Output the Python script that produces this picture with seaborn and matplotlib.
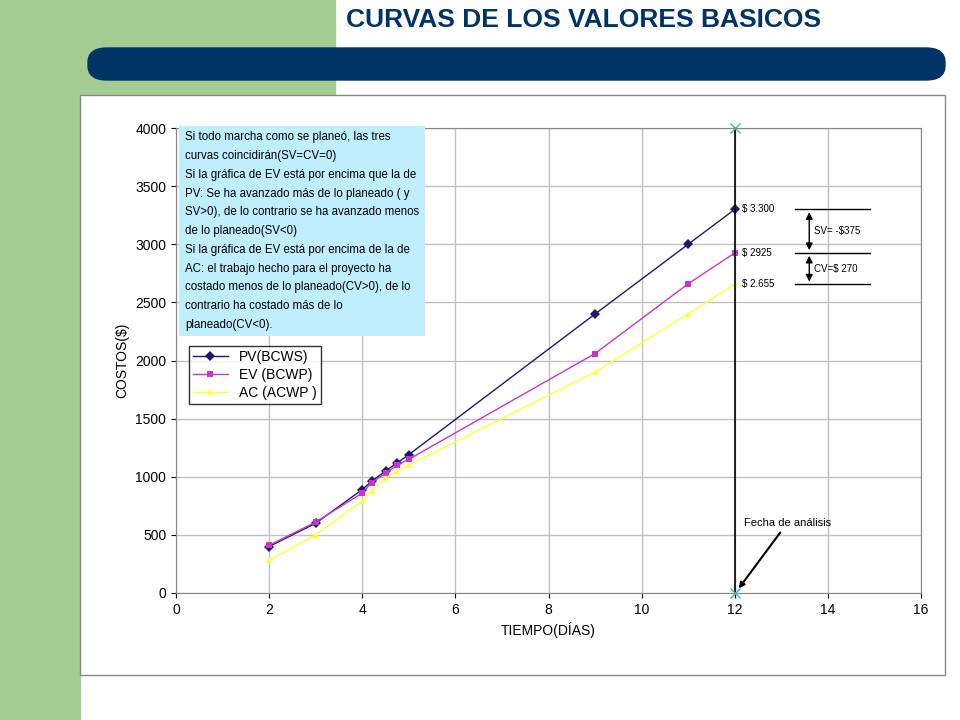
import matplotlib
matplotlib.use("Agg")
import matplotlib.pyplot as plt
import seaborn as sns
import pandas as pd
from matplotlib.patches import Rectangle, FancyBboxPatch

plt.rcParams["font.family"] = ["Liberation Sans", "DejaVu Sans"]

days = [2, 3, 4, 4.2, 4.5, 4.75, 5, 9, 11, 12]
pv = [400, 600, 890, 960, 1050, 1120, 1190, 2400, 3000, 3300]
ev = [410, 610, 860, 950, 1030, 1100, 1150, 2060, 2660, 2925]
ac = [280, 500, 790, 880, 990, 1050, 1100, 1900, 2400, 2655]
series_names = ["PV(BCWS)", "EV (BCWP)", "AC (ACWP )"]

df = pd.concat([
    pd.DataFrame({"dia": days, "costo": v, "serie": n})
    for v, n in zip([pv, ev, ac], series_names)
])

fig = plt.figure(figsize=(9.6, 7.2), dpi=100)
green = "#a3cc94"
navy = "#003366"
fig.patches.append(Rectangle((0, 0), 80/960, 1, transform=fig.transFigure, color=green, zorder=0))
fig.patches.append(Rectangle((0, 1-100/720), 335/960, 100/720, transform=fig.transFigure, color=green, zorder=0))
fig.patches.append(FancyBboxPatch((88/960, 1-80/720), 857/960, 32/720, boxstyle="round,pad=0,rounding_size=0.02",
                                  transform=fig.transFigure, color=navy, zorder=1))
fig.patches.append(Rectangle((80/960, 1-675/720), 865/960, 580/720, transform=fig.transFigure,
                             facecolor="white", edgecolor="#888888", lw=1, zorder=1))
fig.text(346/960, 1-20/720, "CURVAS DE LOS VALORES BASICOS", fontsize=19, fontweight="bold",
         color=navy, va="center", ha="left")

ax = fig.add_axes([176/960, 1-593/720, 745/960, 465/720])
ax.set_zorder(2)
palette = {"PV(BCWS)": "#1a1a6e", "EV (BCWP)": "#cc33cc", "AC (ACWP )": "#ffff33"}
markers = {"PV(BCWS)": "D", "EV (BCWP)": "s", "AC (ACWP )": "^"}
sns.lineplot(data=df, x="dia", y="costo", hue="serie", style="serie", palette=palette,
             markers=markers, dashes=False, markersize=5, markeredgewidth=0, lw=1, ax=ax)
ax.set_xlim(0, 16)
ax.set_ylim(0, 4000)
ax.set_xticks(range(0, 17, 2))
ax.set_yticks(range(0, 4001, 500))
ax.grid(True, color="#c0c0c0", lw=1)
ax.set_axisbelow(True)
ax.set_xlabel("TIEMPO(DÍAS)", fontsize=10)
ax.set_ylabel("COSTOS($)", fontsize=10)
ax.tick_params(labelsize=10)
for s in ax.spines.values():
    s.set_color("#888888")

leg = ax.legend(loc="upper left", bbox_to_anchor=(0.008, 0.547), frameon=True, fancybox=False,
                edgecolor="black", fontsize=10, title=None, handlelength=2.5,
                labelspacing=0.3, borderpad=0.3)

ax.text(0.012, 0.993, "Si todo marcha como se planeó, las tres\ncurvas coincidirán(SV=CV=0)\n"
        "Si la gráfica de EV está por encima que la de\nPV: Se ha avanzado más de lo planeado ( y\n"
        "SV>0), de lo contrario se ha avanzado menos\nde lo planeado(SV<0)\n"
        "Si la gráfica de EV está por encima de la de\nAC: el trabajo hecho para el proyecto ha\n"
        "costado menos de lo planeado(CV>0), de lo\ncontrario ha costado más de lo\nplaneado(CV<0).",
        transform=ax.transAxes, va="top", ha="left", fontsize=8.3, linespacing=1.75,
        bbox=dict(facecolor="#bfefff", edgecolor="none", pad=4))

ax.axvline(12, color="black", lw=1.2)
ax.plot([12, 12], [4000, 0], "x", color="#33bbbb", ms=7, clip_on=False)
ax.text(12.15, pv[-1], "$ 3.300", fontsize=7, va="center")
ax.text(12.15, ev[-1], "$ 2925", fontsize=7, va="center")
ax.text(12.15, ac[-1], "$ 2.655", fontsize=7, va="center")
for y in [pv[-1], ev[-1], ac[-1]]:
    ax.plot([13.3, 14.9], [y, y], color="black", lw=1)
ax.annotate("", xy=(13.6, pv[-1]), xytext=(13.6, ev[-1]),
            arrowprops=dict(arrowstyle="<|-|>", color="black", lw=1))
ax.annotate("", xy=(13.6, ev[-1]), xytext=(13.6, ac[-1]),
            arrowprops=dict(arrowstyle="<|-|>", color="black", lw=1))
ax.text(13.7, (pv[-1]+ev[-1])/2, "SV= -$375", fontsize=7, va="center")
ax.text(13.7, (ev[-1]+ac[-1])/2, "CV=$ 270", fontsize=7, va="center")
ax.annotate("Fecha de análisis", xy=(12.05, 20), xytext=(12.2, 580), fontsize=8,
            arrowprops=dict(arrowstyle="-|>", color="black", lw=1.5))

fig.savefig("out.png", dpi=100)
